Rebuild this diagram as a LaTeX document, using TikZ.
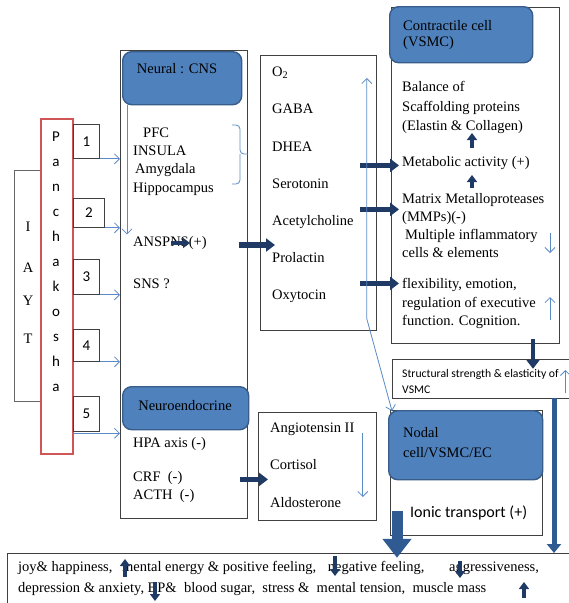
\documentclass[tikz,border=0pt]{standalone}
\usepackage{fontspec}
\setmainfont{Liberation Serif}
\newfontfamily\calfont{Carlito}
\usetikzlibrary{arrows.meta,calc}
\definecolor{hdrfill}{HTML}{4F81BD}
\definecolor{hdrline}{HTML}{385D8A}
\definecolor{thinblue}{HTML}{5B8BC7}
\definecolor{navy}{HTML}{203A66}
\definecolor{midblue}{HTML}{2F5A92}
\definecolor{boxgray}{HTML}{404040}
\definecolor{redbox}{HTML}{D05555}
\begin{document}
\begin{tikzpicture}[x=1pt,y=-1pt,
  box/.style={draw=boxgray, line width=0.8pt, inner sep=0pt, anchor=north west},
  openbox/.style={draw=boxgray, line width=0.8pt},
  hdr/.style={draw=hdrline, line width=1.4pt, fill=hdrfill, rounded corners=9pt, inner sep=0pt, anchor=north west},
  tx/.style={font=\fontsize{14.5}{17}\selectfont, inner sep=0pt, anchor=west, align=left},
  cal/.style={font=\calfont\fontsize{15}{18}\selectfont, inner sep=0pt},
  thinarr/.style={draw=thinblue, line width=0.8pt, -{Straight Barb[length=5pt,width=10pt]}},
  boththin/.style={draw=thinblue, line width=0.8pt, {Straight Barb[length=5pt,width=10pt]}-{Straight Barb[length=5pt,width=10pt]}},
  brace/.style={draw=thinblue, line width=0.8pt, rounded corners=4pt},
  bigarr/.style={draw=navy, line width=5.5pt, -{Triangle[length=9pt,width=13pt]}},
  smallarr/.style={draw=navy, line width=3.5pt, -{Triangle[length=7pt,width=10pt]}},
  vlinearr/.style={draw=midblue, line width=5pt, -{Triangle[length=9pt,width=14pt]}},
  blockarr/.style={draw=midblue, line width=11pt, -{Triangle[length=19pt,width=28pt]}},
]
\useasboundingbox (0,0) rectangle (569,603);
\fill[white] (0,0) rectangle (569,603);

% IAYT
\node[box, draw=boxgray!80, minimum width=27pt, minimum height=231pt] (iayt) at (14,170) {};
\node[tx, anchor=center] (iI) at (28,227) {I};
\node[tx, anchor=center] (iA) at (28,268) {A};
\node[tx, anchor=center] (iY) at (28,301) {Y};
\node[tx, anchor=center] (iT) at (28,339) {T};

% Panchakosha
\node[draw=redbox, line width=2.2pt, fill=white, minimum width=32pt, minimum height=335pt, anchor=north west, inner sep=0pt] (pk) at (40,118) {};
\node[cal, align=center, font=\calfont\fontsize{15}{25}\selectfont] (pktext) at (56,262) {P\\a\\n\\c\\h\\a\\k\\o\\s\\h\\a};

% number boxes
\node[box, cal, anchor=north west, minimum width=26pt, minimum height=34pt] (b1) at (73,124) {1};
\node[box, cal, anchor=north west, minimum width=31pt, minimum height=29pt] (b2) at (73,198) {2};
\node[box, cal, anchor=north west, minimum width=26pt, minimum height=35pt] (b3) at (73,259) {3};
\node[box, cal, anchor=north west, minimum width=26pt, minimum height=32pt] (b4) at (73,329) {4};
\node[box, cal, anchor=north west, minimum width=26pt, minimum height=35pt] (b5) at (73,396) {5};

% Neural box
\node[box, minimum width=127pt, minimum height=468pt] (cns) at (120,50) {};
\node[hdr, minimum width=119pt, minimum height=53pt] (cnshdr) at (122,51) {};
\node[tx, anchor=center] (cnslbl) at (177,69) {Neural : CNS};

\draw[thinarr] (b1.south east) -- (b1.south east -| cns.west);
\draw[thinarr] (b2.south east) -- (b2.south east -| cns.west);
\draw[thinarr] (b3.south east) -- (b3.south east -| cns.west);
\draw[thinarr] (b4.south east) -- (b4.south east -| cns.west);
\coordinate (b5out) at ($(b5.south west)+(0,1.5)$);
\draw[thinarr] (b5out) -- (b5out -| cns.west);

\draw[thinarr] ($(cnshdr.south west)+(5,0)$) -- ++(0,129);

\node[tx, font=\fontsize{14.5}{18.3}\selectfont] (brain) at (133,161.5) {\hspace{10pt}PFC\\INSULA\\\hspace{2pt}Amygdala\\Hippocampus};
\draw[brace] (232,125) -- (240,125) -- (240,154) -- (248,154);
\draw[brace] (232,184) -- (240,184) -- (240,154);

\node[tx] (ans) at (133,243) {ANSPNS(+)};
\draw[smallarr] ($(ans.west)+(38,0)$) -- ($(ans.west)+(57,0)$);
\node[tx] (sns) at (133,284) {SNS ?};

\node[hdr, minimum width=126pt, minimum height=43pt] (nehdr) at (122,386) {};
\node[tx, anchor=center] (nelbl) at (185,406) {Neuroendocrine};
\node[tx] (hpa) at (133,444) {HPA axis (-)};
\node[tx, font=\fontsize{14.5}{18}\selectfont] (crf) at (133,487) {CRF~~(-)\\ACTH~~(-)};

% middle box
\node[box, minimum width=116pt, minimum height=275pt] (mid) at (260,55) {};
\node[tx, font=\fontsize{14.5}{37.2}\selectfont] (mlist) at (272,185) {O\textsubscript{2}\\GABA\\DHEA\\Serotonin\\Acetylcholine\\Prolactin\\Oxytocin};
\draw[bigarr] ($(cns.east |- ans.west)+(-9,2)$) -- ($(mid.west |- ans.west)+(15,2)$);

% angiotensin box
\node[box, minimum width=118pt, minimum height=108pt] (ang) at (258,412) {};
\node[tx, font=\fontsize{14.5}{37.5}\selectfont] (angtxt) at (270,465) {Angiotensin II\\Cortisol\\Aldosterone};
\draw[thinarr] ($(ang.north east)+(-14,21)$) -- ++(0,64);
\draw[bigarr] ($(ang.west)+(-18,13)$) -- ($(ang.west)+(10,13)$);

% contractile
\node[box, minimum width=168pt, minimum height=336pt] (con) at (391,7) {};
\node[hdr, minimum width=143pt, minimum height=56pt] (conhdr) at (389,6) {};
\node[tx, font=\fontsize{14.5}{16.5}\selectfont] (conlbl) at (403,35) {Contractile cell\\(VSMC)};
\node[tx, font=\fontsize{14.5}{19.5}\selectfont] (bal) at (402,107.5) {Balance of\\Scaffolding proteins\\(Elastin \& Collagen)};
\node[tx] (met) at (402,163) {Metabolic activity (+)};
\node[tx, font=\fontsize{14.5}{18}\selectfont] (mmp) at (402,226) {Matrix Metalloproteases\\(MMPs)(-)\\\hspace{3pt}Multiple inflammatory\\cells \& elements};
\node[tx, font=\fontsize{14.5}{18.5}\selectfont] (flex) at (402,303.5) {flexibility, emotion,\\regulation of executive\\function. Cognition.};
\draw[smallarr] ($(met.west)+(70,-15)$) -- ($(met.west)+(70,-30)$);
\draw[smallarr] ($(met.west)+(70,25)$) -- ($(met.west)+(70,12)$);
\draw[thinarr] ($(mmp.west)+(148,7)$) -- ++(0,20);
\draw[thinarr] ($(flex.west)+(148,16.5)$) -- ++(0,-23);

\draw[bigarr] ($(mid.east)+(-17,-27.5)$) -- ($(con.west |- mid.east)+(8,-27.5)$);
\draw[bigarr] ($(mid.east)+(-17,16.5)$) -- ($(con.west |- mid.east)+(8,16.5)$);
\draw[bigarr] ($(mid.east)+(-17,90.5)$) -- ($(con.west |- mid.east)+(8,90.5)$);

% structural
\node[minimum width=177pt, minimum height=39pt, anchor=north west, inner sep=0pt] (strbox) at (392,359) {};
\draw[openbox] (strbox.north east) -- (strbox.north west) -- (strbox.south west) -- (strbox.south east);
\node[tx, font=\calfont\fontsize{11.7}{16}\selectfont] (strtxt) at (402,381) {Structural strength \& elasticity of\\VSMC};
\draw[bigarr, line width=4.5pt] ($(con.south west)+(142,-5)$) -- ($(con.south west)+(142,25)$);
\draw[thinarr] ($(strbox.north east)+(-4,34)$) -- ++(0,-23);

% nodal
\node[box, minimum width=152pt, minimum height=125pt] (nod) at (390,410) {};
\node[hdr, minimum width=154pt, minimum height=69pt] (nodhdr) at (388,410) {};
\node[tx, font=\fontsize{14.5}{20}\selectfont] (nodlbl) at (403,443) {Nodal\\cell/VSMC/EC};
\node[cal, font=\calfont\fontsize{16}{19}\selectfont, anchor=west] (ionic) at (410,513) {Ionic transport (+)};

\draw[boththin] ($(mid.north east)+(-10,23)$) -- ($(mid.south east)+(-10,-12)$) -- ($(nodhdr.north west)+(4,1)$);

% bottom box
\node[minimum width=562pt, minimum height=50pt, anchor=north west, inner sep=0pt] (botbox) at (7,553) {};
\draw[openbox] (botbox.north east) -- (botbox.north west) -- (botbox.south west);

\draw[vlinearr] ($(strbox.south west)+(162,0)$) -- (botbox.north west -| {$(strbox.south west)+(162,0)$});
\draw[blockarr] ($(nod.south west)+(7,-25)$) -- ($(nod.south west)+(7,22)$);

\node[tx, font=\fontsize{14.5}{21}\selectfont] (bottxt) at (18,578) {joy\& happiness, \hspace{6pt}mental energy \& positive feeling, \hspace{8pt}negative feeling, \hspace{21pt}aggressiveness,\\depression \& anxiety, BP\&~~blood sugar,~~stress \&~~mental tension,~~muscle mass};
\draw[smallarr] ($(bottxt.west)+(107,-1)$) -- ($(bottxt.west)+(107,-19)$);
\draw[smallarr] ($(bottxt.west)+(317,-22)$) -- ($(bottxt.west)+(317,-2)$);
\draw[smallarr] ($(bottxt.west)+(442,-17)$) -- ($(bottxt.west)+(442,0)$);
\draw[smallarr] ($(bottxt.west)+(137,4)$) -- ($(bottxt.west)+(137,23)$);
\draw[smallarr] ($(bottxt.west)+(506,20)$) -- ($(bottxt.west)+(506,4)$);
\end{tikzpicture}
\end{document}
